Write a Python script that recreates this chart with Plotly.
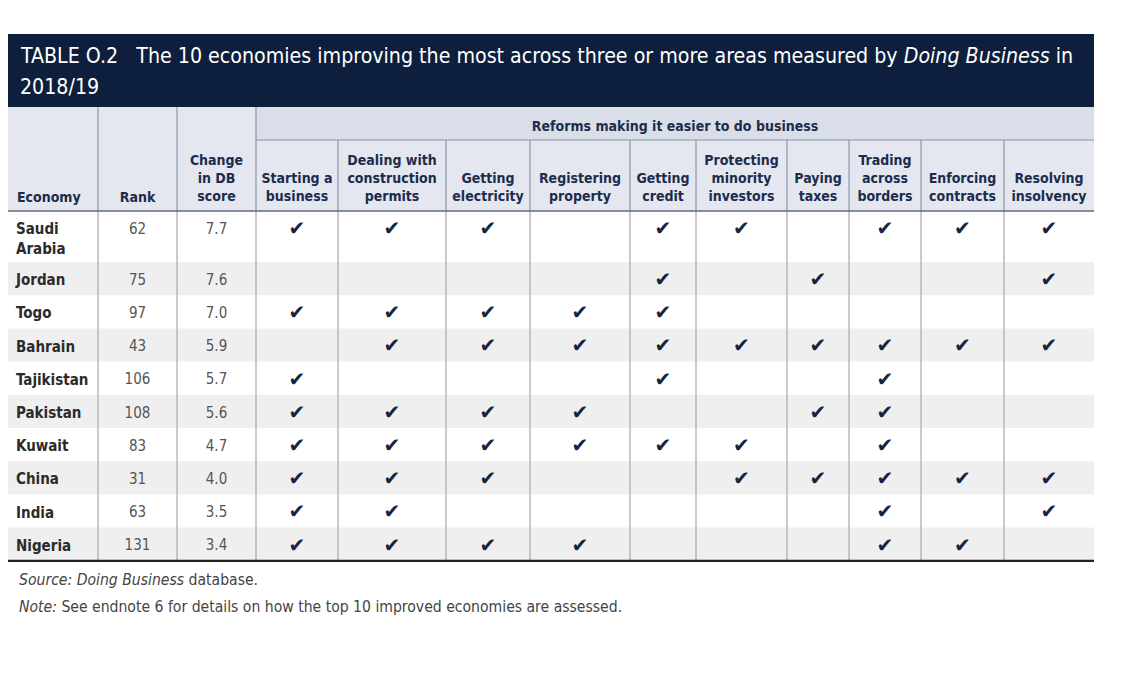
import plotly.graph_objects as go

# ---------------- data ----------------
economies = ["Saudi Arabia", "Jordan", "Togo", "Bahrain", "Tajikistan",
             "Pakistan", "Kuwait", "China", "India", "Nigeria"]
ranks = [62, 75, 97, 43, 106, 108, 83, 31, 63, 131]
db_score_change = [7.7, 7.6, 7.0, 5.9, 5.7, 5.6, 4.7, 4.0, 3.5, 3.4]
reform_areas = ["Starting a<br>business", "Dealing with<br>construction<br>permits",
                "Getting<br>electricity", "Registering<br>property", "Getting<br>credit",
                "Protecting<br>minority<br>investors", "Paying<br>taxes",
                "Trading<br>across<br>borders", "Enforcing<br>contracts",
                "Resolving<br>insolvency"]
# 1 = reform making it easier to do business, per economy (same order as reform_areas)
reforms = [
    [1, 1, 1, 0, 1, 1, 0, 1, 1, 1],  # Saudi Arabia
    [0, 0, 0, 0, 1, 0, 1, 0, 0, 1],  # Jordan
    [1, 1, 1, 1, 1, 0, 0, 0, 0, 0],  # Togo
    [0, 1, 1, 1, 1, 1, 1, 1, 1, 1],  # Bahrain
    [1, 0, 0, 0, 1, 0, 0, 1, 0, 0],  # Tajikistan
    [1, 1, 1, 1, 0, 0, 1, 1, 0, 0],  # Pakistan
    [1, 1, 1, 1, 1, 1, 0, 1, 0, 0],  # Kuwait
    [1, 1, 1, 0, 0, 1, 1, 1, 1, 1],  # China
    [1, 1, 0, 0, 0, 0, 0, 1, 0, 1],  # India
    [1, 1, 1, 1, 0, 0, 0, 1, 1, 0],  # Nigeria
]
fixed_headers = ["Economy", "Rank", "Change<br>in DB<br>score"]
group_header = "Reforms making it easier to do business"
title_line1 = ("TABLE O.2&nbsp;&nbsp;&nbsp;The 10 economies improving the most across three or more "
               "areas measured by <i>Doing Business</i> in")
title_line2 = "2018/19"
source_text = "<i>Source: Doing Business</i> database."
note_text = "<i>Note:</i> See endnote 6 for details on how the top 10 improved economies are assessed."

# ---------------- layout geometry (canvas units = screen pixels) ----------------
PAGE_PAD = 8
W, H = 1125 - 2 * PAGE_PAD, 687 - 2 * PAGE_PAD
col_edges = [8, 98, 177, 256, 338, 446, 530, 630, 696, 787, 849, 921, 1004, 1094]
title_top, title_bot = 34, 107
group_bot, head_bot = 140, 211
row_h = 33.2
first_row_h = 51
row_tops = [head_bot] + [head_bot + first_row_h + i * row_h for i in range(len(economies) - 1)]
table_bot = row_tops[-1] + row_h

FONT = "Liberation Sans Narrow, DejaVu Sans Condensed, Arial Narrow, sans-serif"
NAVY = "#0d1f3d"
HEAD_TXT = "#1c2c4c"
centers = [(col_edges[i] + col_edges[i + 1]) / 2 for i in range(len(col_edges) - 1)]

shapes = []
shapes.append(dict(type="rect", x0=col_edges[0], x1=col_edges[-1], y0=title_top, y1=title_bot,
                   fillcolor=NAVY, line_width=0, layer="below"))
shapes.append(dict(type="rect", x0=col_edges[0], x1=col_edges[-1], y0=title_bot, y1=head_bot,
                   fillcolor="#e4e7ef", line_width=0, layer="below"))
shapes.append(dict(type="rect", x0=col_edges[3], x1=col_edges[-1], y0=title_bot, y1=group_bot,
                   fillcolor="#d9dee9", line_width=0, layer="below"))
for i, top in enumerate(row_tops):
    if i % 2 == 1:
        shapes.append(dict(type="rect", x0=col_edges[0], x1=col_edges[-1], y0=top, y1=top + row_h,
                           fillcolor="#efefef", line_width=0, layer="below"))
shapes.append(dict(type="line", x0=col_edges[3], x1=col_edges[-1], y0=group_bot, y1=group_bot,
                   line=dict(color="#8792a8", width=1.2)))
for j, x in enumerate(col_edges[1:-1], start=1):
    y0 = title_bot if j <= 3 else group_bot
    shapes.append(dict(type="line", x0=x, x1=x, y0=y0, y1=head_bot,
                       line=dict(color="#8d97aa", width=1.2)))
    shapes.append(dict(type="line", x0=x, x1=x, y0=head_bot, y1=table_bot,
                       line=dict(color="#a8a8a8", width=1.2)))
shapes.append(dict(type="line", x0=col_edges[0], x1=col_edges[-1], y0=head_bot, y1=head_bot,
                   line=dict(color="#5f6b80", width=1.6)))
shapes.append(dict(type="line", x0=col_edges[0], x1=col_edges[-1], y0=table_bot, y1=table_bot,
                   line=dict(color="#222222", width=2.2)))

fig = go.Figure()

head_font = dict(family=FONT, size=14, color=HEAD_TXT, weight="bold")
head_y = head_bot - 6
fig.add_trace(go.Scatter(
    x=[col_edges[0] + 9], y=[head_y], mode="text", text=[fixed_headers[0]],
    textposition="top right", textfont=head_font, hoverinfo="skip"))
fig.add_trace(go.Scatter(
    x=centers[1:3] + centers[3:], y=[head_y] * (2 + len(reform_areas)), mode="text",
    text=fixed_headers[1:] + reform_areas, textposition="top center",
    textfont=head_font, hoverinfo="skip"))
fig.add_trace(go.Scatter(
    x=[(col_edges[3] + col_edges[-1]) / 2], y=[(title_bot + group_bot) / 2 + 4], mode="text",
    text=[group_header], textposition="middle center",
    textfont=head_font, hoverinfo="skip"))

fig.add_trace(go.Scatter(
    x=[col_edges[0] + 8] * len(economies), y=[t + 12 for t in row_tops], mode="text",
    text=[e.replace(" ", "<br>") for e in economies], textposition="bottom right",
    textfont=dict(family=FONT, size=15, color="#2b2b2b", weight="bold"), hoverinfo="skip"))
fig.add_trace(go.Scatter(
    x=[centers[1]] * len(ranks), y=[t + 19 for t in row_tops], mode="text",
    text=[str(r) for r in ranks], textposition="middle center",
    textfont=dict(family=FONT, size=15, color="#555555"), hoverinfo="skip"))
fig.add_trace(go.Scatter(
    x=[centers[2]] * len(db_score_change), y=[t + 19 for t in row_tops], mode="text",
    text=[f"{s:.1f}" for s in db_score_change], textposition="middle center",
    textfont=dict(family=FONT, size=15, color="#555555"), hoverinfo="skip"))
cx, cy = [], []
for i, row in enumerate(reforms):
    for j, v in enumerate(row):
        if v:
            cx.append(centers[3 + j])
            cy.append(row_tops[i] + 19)
fig.add_trace(go.Scatter(
    x=cx, y=cy, mode="text", text=["\u2714"] * len(cx), textposition="middle center",
    textfont=dict(family="DejaVu Sans", size=20, color="#16243f"), hoverinfo="skip"))

annotations = [
    dict(x=col_edges[0] + 10, y=55, xref="x", yref="y", text=title_line1,
         showarrow=False, xanchor="left", yanchor="middle", align="left",
         font=dict(family=FONT, size=21.2, color="white")),
    dict(x=col_edges[0] + 10, y=86, xref="x", yref="y", text=title_line2,
         showarrow=False, xanchor="left", yanchor="middle", align="left",
         font=dict(family=FONT, size=21.2, color="white")),
    dict(x=col_edges[0] + 9, y=table_bot + 19, xref="x", yref="y", text=source_text,
         showarrow=False, xanchor="left", yanchor="middle", align="left",
         font=dict(family=FONT, size=15.6, color="#444444")),
    dict(x=col_edges[0] + 9, y=table_bot + 46, xref="x", yref="y", text=note_text,
         showarrow=False, xanchor="left", yanchor="middle", align="left",
         font=dict(family=FONT, size=15.6, color="#444444")),
]

fig.update_layout(
    width=W, height=H, margin=dict(l=0, r=0, t=0, b=0),
    paper_bgcolor="white", plot_bgcolor="white", showlegend=False,
    xaxis=dict(range=[PAGE_PAD, PAGE_PAD + W], visible=False, fixedrange=True),
    yaxis=dict(range=[PAGE_PAD + H, PAGE_PAD], visible=False, fixedrange=True),
    shapes=shapes, annotations=annotations,
)
fig.write_html("out.html")
